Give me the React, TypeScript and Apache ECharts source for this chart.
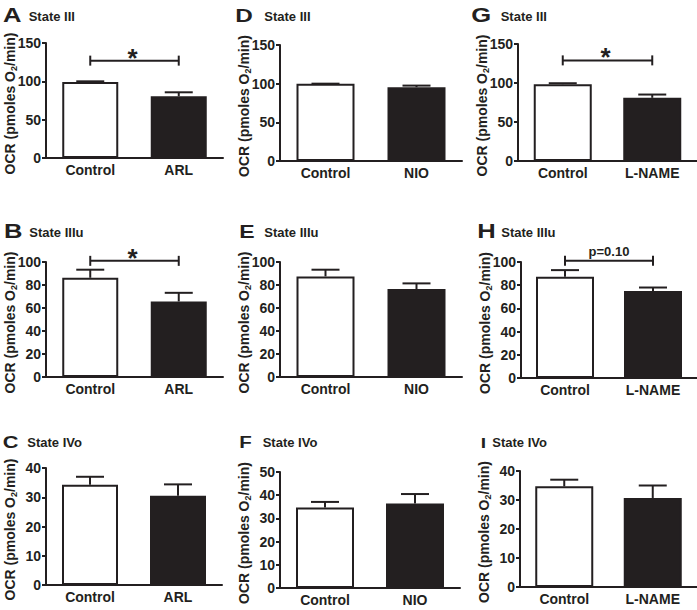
import React, { useEffect, useRef } from "react";
import * as echarts from "echarts";

// ---------- data ----------
const panelLetters = ["A", "B", "C", "D", "E", "F", "G", "H", "I"];
const panelTitles = ["State III", "State IIIu", "State IVo", "State III", "State IIIu", "State IVo", "State III", "State IIIu", "State IVo"];
const categoriesARL = ["Control", "ARL"];
const categoriesNIO = ["Control", "NIO"];
const categoriesLNAME = ["Control", "L-NAME"];
const yAxisTitle = "OCR (pmoles O";
const yAxisTitleSub = "2";
const yAxisTitleEnd = "/min)";

const meansA = [99, 80.5];
const errA = [1, 5.2];
const meansB = [86.3, 65.7];
const errB = [7, 7.5];
const meansC = [34.3, 30.5];
const errC = [2.7, 3.9];
const meansD = [100, 95.5];
const errD = [0, 2];
const meansE = [87.5, 76.5];
const errE = [5.8, 4.9];
const meansF = [34.7, 36.4];
const errF = [2.4, 4.1];
const meansG = [98.5, 81];
const errG = [1.2, 4.2];
const meansH = [87.3, 74.9];
const errH = [5.7, 3.1];
const meansI = [34.7, 30.7];
const errI = [2.3, 4.3];

const yMaxA = 150, yStepA = 50;
const yMaxB = 100, yStepB = 20;
const yMaxC = 40, yStepC = 10;
const yMaxF = 50, yStepF = 10;

// significance brackets: [y value, label]
const sigA: [number, string] = [127, "*"];
const sigB: [number, string] = [101, "*"];
const sigG: [number, string] = [129, "*"];
const sigH: [number, string] = [101, "p=0.10"];

// ---------- styles / layout ----------
const DARK = "#231f20";
const FONT = "'Liberation Sans', Arial, Helvetica, sans-serif";

type Panel = {
  cats: string[];
  means: number[];
  errs: number[];
  ymax: number;
  step: number;
  sig: [number, string] | null;
};

const panels: Panel[] = [
  { cats: categoriesARL, means: meansA, errs: errA, ymax: yMaxA, step: yStepA, sig: sigA },
  { cats: categoriesARL, means: meansB, errs: errB, ymax: yMaxB, step: yStepB, sig: sigB },
  { cats: categoriesARL, means: meansC, errs: errC, ymax: yMaxC, step: yStepC, sig: null },
  { cats: categoriesNIO, means: meansD, errs: errD, ymax: yMaxA, step: yStepA, sig: null },
  { cats: categoriesNIO, means: meansE, errs: errE, ymax: yMaxB, step: yStepB, sig: null },
  { cats: categoriesNIO, means: meansF, errs: errF, ymax: yMaxF, step: yStepF, sig: null },
  { cats: categoriesLNAME, means: meansG, errs: errG, ymax: yMaxA, step: yStepA, sig: sigG },
  { cats: categoriesLNAME, means: meansH, errs: errH, ymax: yMaxB, step: yStepB, sig: sigH },
  { cats: categoriesLNAME, means: meansI, errs: errI, ymax: yMaxC, step: yStepC, sig: null },
];

// [left, top, right, bottom, barWidth, letterX, letterBaseline, letterSize, titleX, titleBaseline]
const layout: number[][] = [
  [46, 43, 223, 158, 56, 3, 22, 20, 28.7, 21],
  [46, 262, 223, 377, 56, 4, 238.3, 20, 29.3, 237.3],
  [46, 468, 222, 585, 56, 2.7, 448.3, 17, 27.3, 447.3],
  [280, 45, 462, 161, 58, 235.3, 21.7, 19, 264.3, 20.7],
  [280, 262, 462, 377, 58, 239.3, 237.7, 18, 264.3, 237.3],
  [280, 472, 460, 588, 58, 239.3, 448.3, 16, 262.7, 447.3],
  [518, 44, 697, 161, 58, 471.3, 22, 20, 500.7, 21],
  [521, 262, 697, 378, 58, 477.3, 238.3, 20, 501.3, 237],
  [520, 471, 697, 587, 58, 480.7, 447.7, 15, 492.3, 447],
];

function buildOption() {
  const grid: any[] = [];
  const xAxis: any[] = [];
  const yAxis: any[] = [];
  const series: any[] = [];
  const graphic: any[] = [];

  panels.forEach((p, i) => {
    const [l, t, r, b, bw, lx, lb, ls, tx, tb] = layout[i];
    grid.push({ left: l, top: t, width: r - l, height: b - t, containLabel: false, outerBoundsMode: "none" });
    xAxis.push({
      type: "category",
      gridIndex: i,
      data: p.cats,
      z: 10,
      axisLine: { lineStyle: { color: DARK, width: 2 } },
      axisTick: { alignWithLabel: true, length: 4, lineStyle: { color: DARK, width: 2 } },
      axisLabel: { margin: 5, color: DARK, fontSize: 14, fontWeight: "bold", fontFamily: FONT },
    });
    yAxis.push({
      type: "value",
      gridIndex: i,
      min: 0,
      max: p.ymax,
      interval: p.step,
      z: 10,
      splitLine: { show: false },
      axisLine: { show: true, lineStyle: { color: DARK, width: 2 } },
      axisTick: { show: true, length: 4, lineStyle: { color: DARK, width: 2 } },
      axisLabel: { margin: 5, color: DARK, fontSize: 14, fontWeight: "bold", fontFamily: FONT },
    });
    series.push({
      type: "bar",
      xAxisIndex: i,
      yAxisIndex: i,
      barWidth: bw,
      data: p.means.map((v, j) => ({
        value: v,
        itemStyle:
          j === 0
            ? { color: "#ffffff", borderColor: DARK, borderWidth: 2 }
            : { color: DARK, borderColor: DARK, borderWidth: 2 },
      })),
      z: 2,
    });
    series.push({
      type: "custom",
      xAxisIndex: i,
      yAxisIndex: i,
      z: 3,
      encode: { x: 0, y: 1 },
      data: p.means.map((v, j) => [j, v, p.errs[j]]),
      renderItem: (_params: any, api: any) => {
        const x = api.value(0);
        const v = api.value(1);
        const e = api.value(2);
        const p0 = api.coord([x, v]);
        const p1 = api.coord([x, v + e]);
        const st = { stroke: DARK, lineWidth: 2 };
        return {
          type: "group",
          children: [
            { type: "line", shape: { x1: p0[0], y1: p0[1], x2: p1[0], y2: p1[1] }, style: st },
            { type: "line", shape: { x1: p1[0] - 14, y1: p1[1], x2: p1[0] + 14, y2: p1[1] }, style: st },
          ],
        };
      },
    });
    if (p.sig) {
      const label = p.sig[1];
      series.push({
        type: "custom",
        xAxisIndex: i,
        yAxisIndex: i,
        z: 4,
        clip: false,
        encode: { x: 0, y: 1 },
        data: [[0, p.sig[0]]],
        renderItem: (_params: any, api: any) => {
          const y = api.value(1);
          const a = api.coord([0, y]);
          const c = api.coord([1, y]);
          const st = { stroke: DARK, lineWidth: 2 };
          const isStar = label === "*";
          return {
            type: "group",
            children: [
              { type: "line", shape: { x1: a[0], y1: a[1], x2: c[0], y2: c[1] }, style: st },
              { type: "line", shape: { x1: a[0], y1: a[1] - 5, x2: a[0], y2: a[1] + 5 }, style: st },
              { type: "line", shape: { x1: c[0], y1: c[1] - 5, x2: c[0], y2: c[1] + 5 }, style: st },
              {
                type: "text",
                x: (a[0] + c[0]) / 2 - (isStar ? 2 : 0),
                y: isStar ? a[1] - 3 : a[1] - 9,
                style: {
                  text: label,
                  fill: DARK,
                  fontSize: isStar ? 26 : 13,
                  fontWeight: "bold",
                  fontFamily: FONT,
                  align: "center",
                  verticalAlign: "middle",
                },
              },
            ],
          };
        },
      });
    }
    // y-axis title (rotated, with subscript)
    graphic.push({
      type: "text",
      x: l - 36.5,
      y: (t + b) / 2 + 3,
      rotation: Math.PI / 2,
      style: {
        text: `{a|${yAxisTitle}}{s|${yAxisTitleSub}}{a|${yAxisTitleEnd}}`,
        align: "center",
        verticalAlign: "middle",
        rich: {
          a: { fontSize: 14, fontWeight: "bold", fill: DARK, fontFamily: FONT, lineHeight: 18 },
          s: { fontSize: 9, fontWeight: "bold", fill: DARK, fontFamily: FONT, lineHeight: 9, verticalAlign: "bottom" },
        },
      },
    });
    graphic.push({
      type: "text",
      x: lx,
      y: lb - 0.35 * ls,
      scaleX: 1.28,
      style: {
        text: panelLetters[i],
        fill: DARK,
        fontSize: ls,
        fontWeight: "bold",
        fontFamily: FONT,
        align: "left",
        verticalAlign: "middle",
      },
    });
    graphic.push({
      type: "text",
      x: tx,
      y: tb - 0.35 * 13,
      style: {
        text: panelTitles[i],
        fill: DARK,
        fontSize: 13,
        fontWeight: "bold",
        fontFamily: FONT,
        align: "left",
        verticalAlign: "middle",
      },
    });
  });

  return {
    animation: false,
    backgroundColor: "#ffffff",
    textStyle: { fontFamily: FONT },
    grid,
    xAxis,
    yAxis,
    series,
    graphic,
  };
}

export default function App() {
  const ref = useRef<HTMLDivElement>(null);
  useEffect(() => {
    document.body.style.margin = "0";
    if (!ref.current) return;
    const chart = echarts.init(ref.current, null, { renderer: "svg" });
    chart.setOption(buildOption() as any);
    return () => chart.dispose();
  }, []);
  return <div ref={ref} style={{ width: 697, height: 610 }} />;
}
